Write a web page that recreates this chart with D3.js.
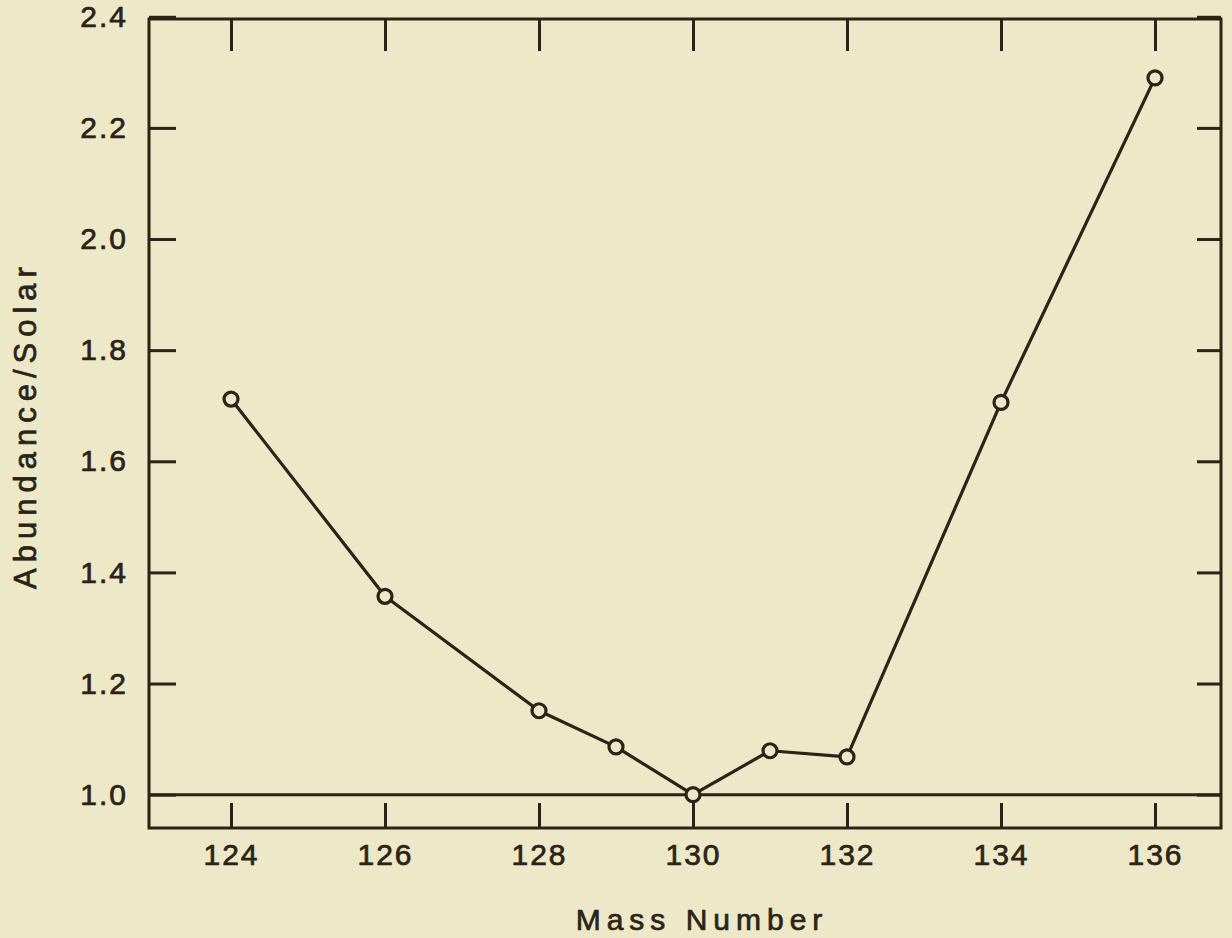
<!DOCTYPE html>
<html>
<head>
<meta charset="utf-8">
<script src="https://cdn.jsdelivr.net/npm/d3@7"></script>
<style>
	body { margin: 0; background: #ede8c8; }
	svg { display: block; }
	text { font-family: "Liberation Sans", Arial, sans-serif; fill: #2b2316; stroke: #2b2316; stroke-width: 0.7px; }
</style>
</head>
<body>
<svg id="chart"></svg>
<script>
var massNumbers = [124, 126, 128, 129, 130, 131, 132, 134, 136];
var abundance = [1.712, 1.357, 1.151, 1.086, 1.0, 1.079, 1.068, 1.706, 2.290];
var xTicks = [124, 126, 128, 130, 132, 134, 136];
var yTicks = [1.0, 1.2, 1.4, 1.6, 1.8, 2.0, 2.2, 2.4];

var W = 1232, H = 938;
var ink = "#2b2316", bg = "#ede8c8";
// plot frame edges
var fx0 = 149, fx1 = 1221, fy0 = 19, fy1 = 828;

var svg = d3.select("#chart")
	.attr("width", W)
	.attr("height", H)

svg.append("rect")
	.attr("width", W).attr("height", H)
	.attr("fill", bg)

var x = d3.scaleLinear()
	.domain([122.935, 136.857])
	.range([fx0, fx1])
var y = d3.scaleLinear()
	.domain([0.94, 2.396])
	.range([fy1, fy0])

// frame
svg.append("rect")
	.attr("x", fx0).attr("y", fy0)
	.attr("width", fx1 - fx0).attr("height", fy1 - fy0)
	.attr("fill", "none")
	.attr("stroke", ink)
	.attr("stroke-width", 3)

// reference line at 1.0
svg.append("line")
	.attr("x1", fx0).attr("x2", fx1)
	.attr("y1", y(1.0)).attr("y2", y(1.0))
	.attr("stroke", ink)
	.attr("stroke-width", 3)

function styleAxis(g) {
	g.select(".domain").remove();
	g.selectAll(".tick line").attr("stroke", ink).attr("stroke-width", 3);
	g.selectAll(".tick text").attr("fill", ink)
		.style("font-size", "30px")
		.style("letter-spacing", "2px");
}

svg.append("g")
	.attr("transform", "translate(" + fx0 + ",0)")
	.call(d3.axisLeft(y).tickValues(yTicks).tickSize(-27).tickPadding(21)
		.tickFormat(d3.format(".1f")))
	.call(styleAxis)

svg.append("g")
	.attr("transform", "translate(" + fx1 + ",0)")
	.call(d3.axisRight(y).tickValues(yTicks).tickSize(-24).tickFormat(""))
	.call(styleAxis)

svg.append("g")
	.attr("transform", "translate(0," + fy1 + ")")
	.call(d3.axisBottom(x).tickValues(xTicks).tickSize(-25).tickPadding(16))
	.call(styleAxis)

svg.append("g")
	.attr("transform", "translate(0," + fy0 + ")")
	.call(d3.axisTop(x).tickValues(xTicks).tickSize(-32).tickFormat(""))
	.call(styleAxis)

// axis titles
svg.append("text")
	.attr("x", (565 + 833) / 2 + 3).attr("y", 930)
	.attr("text-anchor", "middle")
	.style("font-size", "30px")
	.style("letter-spacing", "6px")
	.text("Mass Number")

svg.append("text")
	.attr("transform", "translate(36,425) rotate(-90)")
	.attr("text-anchor", "middle")
	.style("font-size", "31px")
	.style("letter-spacing", "6px")
	.text("Abundance/Solar")

// series
var pts = massNumbers.map(function(m, i) { return [m, abundance[i]]; });

svg.append("path")
	.datum(pts)
	.attr("fill", "none")
	.attr("stroke", ink)
	.attr("stroke-width", 3.2)
	.attr("stroke-linejoin", "round")
	.attr("d", d3.line()
		.x(function(d) { return x(d[0]); })
		.y(function(d) { return y(d[1]); }))

svg.append("g").selectAll("circle")
	.data(pts)
	.enter()
	.append("circle")
	.attr("cx", function(d) { return x(d[0]); })
	.attr("cy", function(d) { return y(d[1]); })
	.attr("r", 7)
	.attr("fill", bg)
	.attr("stroke", ink)
	.attr("stroke-width", 3.2)
</script>
</body>
</html>
